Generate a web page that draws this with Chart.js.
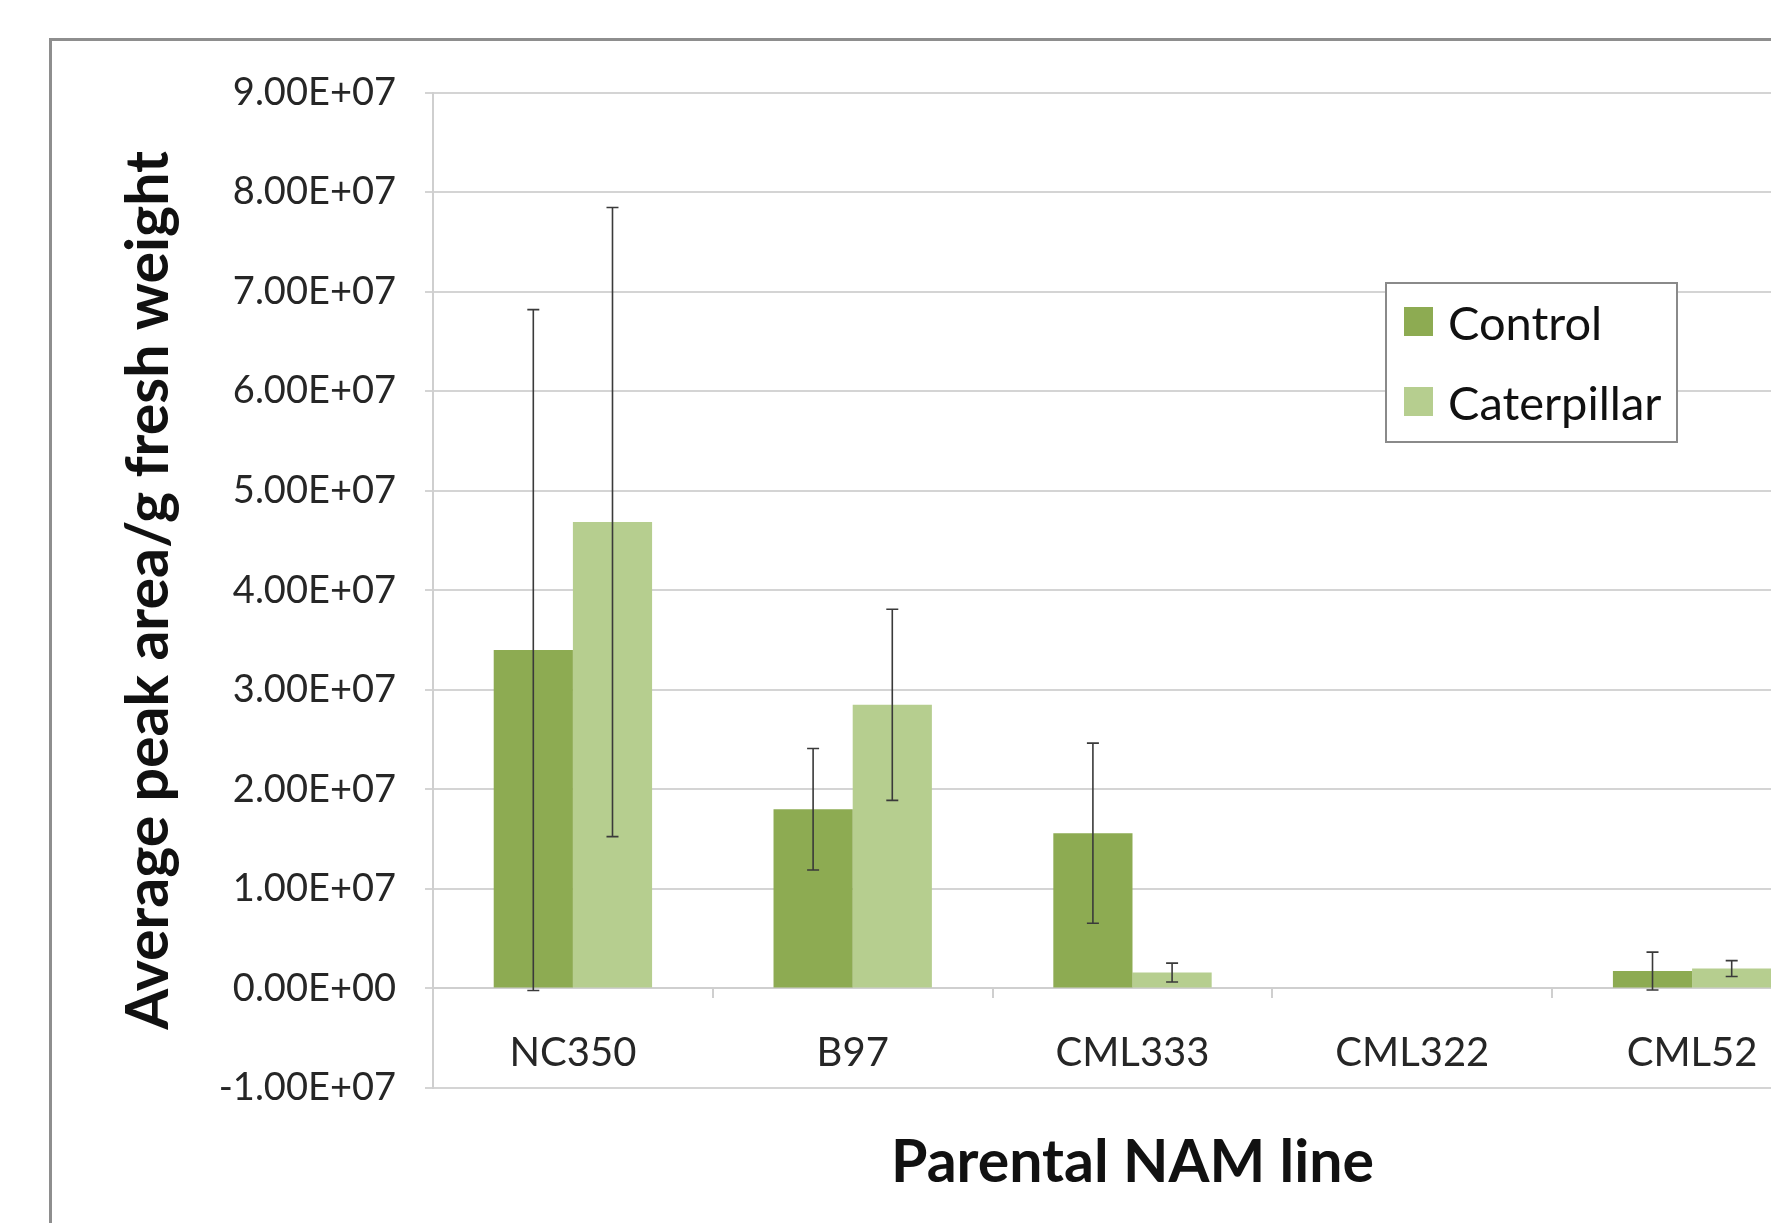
<!DOCTYPE html>
<html>
<head>
<meta charset="utf-8">
<script src="https://cdn.jsdelivr.net/npm/chart.js@4/dist/chart.umd.min.js"></script>
<style>
  html, body { margin: 0; padding: 0; background: #fff; overflow: hidden; width: 1771px; height: 1223px; }
  #frame { position: absolute; left: 49px; top: 38px; width: 2000px; height: 2000px; border: 3px solid #8e8e8e; }
  #chart { position: absolute; left: 0; top: 0; }
</style>
</head>
<body>
<div id="frame"></div>
<canvas id="chart" width="1850" height="1250"></canvas>
<script>
const lines = ["NC350", "B97", "CML333", "CML322", "CML52"];
const controlMean = [3.40e7, 1.80e7, 1.56e7, 0, 0.175e7];
const controlErr = [3.42e7, 0.61e7, 0.905e7, 0, 0.19e7];
const caterpillarMean = [4.685e7, 2.85e7, 0.16e7, 0, 0.20e7];
const caterpillarErr = [3.16e7, 0.96e7, 0.095e7, 0, 0.08e7];
const yTicksMin = -1e7;
const yTicksMax = 9e7;
const yTicksStep = 1e7;

const errors = [controlErr, caterpillarErr];

// excel style 9.00E+07
function sci(v) {
  const parts = Number(v).toExponential(2).split("e");
  const n = parseInt(parts[1], 10);
  return parts[0] + "E" + (n < 0 ? "-" : "+") + String(Math.abs(n)).padStart(2, "0");
}

const errorBars = {
  id: "errorBars",
  afterDatasetsDraw(chart) {
    const ctx = chart.ctx;
    const y = chart.scales.y;
    ctx.save();
    ctx.strokeStyle = "#3a3a3a";
    ctx.lineWidth = 1.6;
    chart.data.datasets.forEach((ds, i) => {
      const meta = chart.getDatasetMeta(i);
      meta.data.forEach((bar, j) => {
        const e = errors[i][j];
        if (!e) return;
        const v = ds.data[j];
        const top = y.getPixelForValue(v + e);
        const bot = y.getPixelForValue(v - e);
        ctx.beginPath();
        ctx.moveTo(bar.x, top);
        ctx.lineTo(bar.x, bot);
        ctx.moveTo(bar.x - 6, top);
        ctx.lineTo(bar.x + 6, top);
        ctx.moveTo(bar.x - 6, bot);
        ctx.lineTo(bar.x + 6, bot);
        ctx.stroke();
      });
    });
    ctx.restore();
  }
};

const boxLegend = {
  id: "boxLegend",
  afterDraw(chart) {
    const ctx = chart.ctx;
    ctx.save();
    ctx.fillStyle = "#fff";
    ctx.fillRect(1386, 283, 291, 159);
    ctx.strokeStyle = "#8a8a8a";
    ctx.lineWidth = 2;
    ctx.strokeRect(1386, 283, 291, 159);
    ctx.font = "47px Lato";
    ctx.textBaseline = "middle";
    ctx.textAlign = "left";
    chart.data.datasets.forEach((ds, i) => {
      const cy = 322 + i * 80;
      ctx.fillStyle = ds.backgroundColor;
      ctx.fillRect(1404, cy - 15, 29, 29);
      ctx.fillStyle = "#111";
      ctx.fillText(ds.label, 1448, cy + 3);
    });
    ctx.restore();
  }
};

function draw() {
  const ctx = document.getElementById("chart").getContext("2d");
  new Chart(ctx, {
    type: "bar",
    data: {
      labels: lines,
      datasets: [
        {
          label: "Control",
          data: controlMean,
          backgroundColor: "#8dab52",
          categoryPercentage: 0.566,
          barPercentage: 1.0,
        },
        {
          label: "Caterpillar",
          data: caterpillarMean,
          backgroundColor: "#b6ce8f",
          categoryPercentage: 0.566,
          barPercentage: 1.0,
        },
      ],
    },
    options: {
      responsive: false,
      animation: false,
      layout: { padding: { left: 50, top: 92.6, right: 18, bottom: 162 } },
      plugins: { legend: { display: false }, tooltip: { enabled: false } },
      scales: {
        x: {
          position: { y: 0 },
          grid: {
            offset: true,
            drawOnChartArea: false,
            drawTicks: true,
            tickLength: 9,
            color: "#cfcfcf",
            lineWidth: 2,
          },
          border: { display: true, color: "#cfcfcf", width: 2 },
          ticks: {
            padding: 32,
            color: "#262626",
            font: { family: "Lato", size: 40 },
          },
          title: {
            display: true,
            text: "Parental NAM line",
            color: "#111",
            font: { family: "Lato", size: 59, weight: "bold" },
            padding: { top: 18, bottom: 0 },
          },
        },
        y: {
          min: yTicksMin,
          max: yTicksMax,
          afterFit(scale) { scale.width = 383; },
          grid: {
            color: "#d4d4d4",
            lineWidth: 2,
            drawTicks: true,
            tickLength: 8,
          },
          border: { display: true, color: "#cfcfcf", width: 2 },
          ticks: {
            stepSize: yTicksStep,
            padding: 29,
            color: "#262626",
            font: { family: "Lato", size: 38 },
            callback: (v) => sci(v),
          },
          title: {
            display: true,
            text: "Average peak area/g fresh weight",
            color: "#111",
            font: { family: "Lato", size: 59, weight: "bold" },
            padding: { top: 64, bottom: 0 },
          },
        },
      },
    },
    plugins: [errorBars, boxLegend],
  });
}

Promise.all([
  document.fonts.load("38px Lato"),
  document.fonts.load("40px Lato"),
  document.fonts.load("bold 59px Lato"),
  document.fonts.load("47px Lato"),
]).then(draw, draw);
</script>
</body>
</html>
